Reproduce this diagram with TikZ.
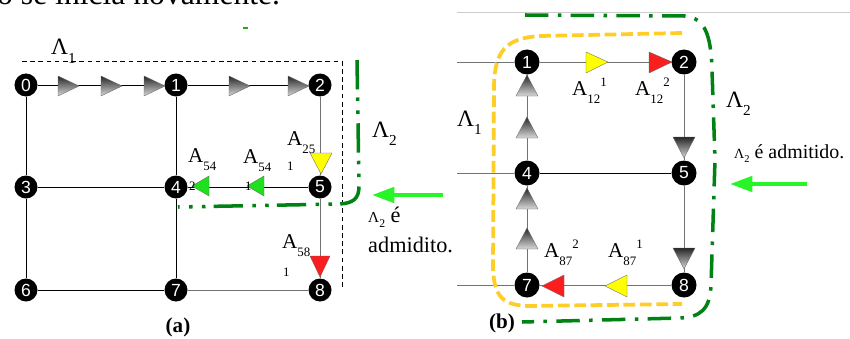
\documentclass[tikz,border=0pt]{standalone}
\usepackage{fontspec}
\setmainfont{Liberation Serif}
\setsansfont{Liberation Sans}
\usetikzlibrary{positioning,calc,arrows.meta}

\definecolor{triyellow}{RGB}{255,255,0}
\definecolor{trired}{RGB}{250,30,30}
\definecolor{trigreen}{RGB}{30,225,30}
\definecolor{arrowgreen}{RGB}{40,245,40}
\definecolor{lamgreen}{RGB}{0,130,20}
\definecolor{lamyellow}{RGB}{255,205,40}

\newcommand{\Aidx}[2]{A\raisebox{-7pt}{\fontsize{11}{11}\selectfont#1}\raisebox{7pt}{\fontsize{11}{11}\selectfont#2}}
\newcommand{\Lam}[1]{Λ\raisebox{-7pt}{\fontsize{13}{13}\selectfont#1}}

\tikzset{
  vtx/.style={circle, fill=black, inner sep=0pt, minimum size=0.69cm, text=white,
    font=\sffamily\fontsize{15}{15}\selectfont},
  vtxb/.style={vtx, minimum size=0.75cm},
  edge/.style={line width=0.6pt, black},
  gedge/.style={line width=0.6pt, black!55},
  graytri/.style={top color=black!85, bottom color=black!15, draw=black!60, line width=0.3pt},
  coltri/.style={fill=#1, draw=black!60, line width=0.3pt},
  lbl/.style={inner sep=0pt, anchor=base west, font=\rmfamily\fontsize{18}{18}\selectfont},
  small/.style={inner sep=0pt, anchor=base west, font=\rmfamily\fontsize{11}{11}\selectfont},
  lamlbl/.style={inner sep=0pt, anchor=base west, font=\rmfamily\fontsize{20}{20}\selectfont},
  lamdashdot/.style={lamgreen, line width=3pt, dash pattern=on 25pt off 7pt on 3pt off 8pt on 3pt off 8pt},
  lamdot/.style={lamgreen, line width=3pt, dash pattern=on 20pt off 8pt on 3pt off 8pt},
  lamdash/.style={lamyellow, line width=3.2pt, dash pattern=on 10pt off 4pt},
  admit/.style={-{Triangle[length=19pt, width=13pt]}, arrowgreen, line width=3.4pt}
}

\begin{document}
\begin{tikzpicture}[x=0.03cm, y=-0.03cm]
  \useasboundingbox (0,0) rectangle (850,338);
  \fill[white] (0,0) rectangle (850,338);

  % Cut text at the top
  \node[inner sep=0pt, anchor=base west, font=\rmfamily\fontsize{27}{27}\selectfont] (toptext) at (-3,5) {o se inicia novamente.};
  \draw[arrowgreen!70!black, line width=1pt] (243,28) -- (248,28);
  \draw[black!20, line width=0.5pt] (457,12) -- (850,12);

  % (a) nodes
  \node[vtx] (a0) at (26,85) {0};
  \node[vtx] (a1) at (176,85) {1};
  \node[vtx] (a2) at (320,85) {2};
  \node[vtx] (a3) at (26,187) {3};
  \node[vtx] (a4) at (176,187) {4};
  \node[vtx] (a5) at (320,187) {5};
  \node[vtx] (a6) at (26,290) {6};
  \node[vtx] (a7) at (176,290) {7};
  \node[vtx] (a8) at (320,290) {8};

  % (a) links
  \draw[edge] (a0) -- (a1);
  \draw[edge] (a1) -- (a2);
  \draw[edge] (a0) -- (a3);
  \draw[edge] (a3) -- (a6);
  \draw[edge] (a1) -- (a4);
  \draw[edge] (a4) -- (a7);
  \draw[gedge] (a2) -- (a5);
  \draw[gedge] (a5) -- (a8);
  \draw[edge] (a3) -- (a4);
  \draw[edge] (a4) -- (a5);
  \draw[edge] (a6) -- (a7);
  \draw[gedge] (a7) -- (a8);

  % (a) flow markers
  \foreach \x in {58,101,144,229,288}
    \path[graytri] (\x,76) -- ++(21,10) -- ++(-21,10) -- cycle;
  \path[coltri=triyellow] (310,153) -- (332,153) -- (321,174) -- cycle;
  \path[coltri=trigreen] (209,176) -- (209,196) -- (192,186) -- cycle;
  \path[coltri=trigreen] (264,176) -- (264,196) -- (247,186) -- cycle;
  \path[coltri=trired] (310,256) -- (330,256) -- (320,277) -- cycle;

  % (a) labels
  \node[lbl] (la25) at (287,145) {\Aidx{25}{}};
  \node[small] (la25i) at (287,170) {1};
  \node[lbl] (la54b) at (188,162) {\Aidx{54}{}};
  \node[small] (la54bi) at (189,190) {2};
  \node[lbl] (la54a) at (243,163) {\Aidx{54}{}};
  \node[small] (la54ai) at (245,190) {1};
  \node[lbl] (la58) at (282,248) {\Aidx{58}{}};
  \node[small] (la58i) at (283,276) {1};

  % (a) regions
  \draw[dash pattern=on 4pt off 3pt, line width=0.5pt] (22,61) -- (342,61) -- (342,288);
  \node[lamlbl] (lamA1) at (51,55) {\Lam{1}};
  \draw[lamdashdot] (357,60) -- (359,186) .. controls (359,199) and (353,203) .. (340,204) -- (178,207);
  \node[lamlbl] (lamA2) at (372,137) {\Lam{2}};
  \coordinate (arrA1) at (443,195);
  \coordinate (arrA2) at (372,195);
  \draw[admit] (arrA1) -- (arrA2);
  \node[inner sep=0pt, anchor=base west, font=\rmfamily\fontsize{19}{19}\selectfont] (admA1) at (368,222)
    {{\fontsize{13}{13}\selectfont Λ\raisebox{-5pt}{\fontsize{10}{10}\selectfont 2}}\ é};
  \node[inner sep=0pt, anchor=base west, font=\rmfamily\fontsize{19}{19}\selectfont] (admA2) at (368,252) {admidito.};
  \node[inner sep=0pt, font=\rmfamily\bfseries\fontsize{18}{18}\selectfont] (capa) at (178,327) {(a)};

  % (b) nodes
  \node[vtxb] (b1) at (527,62) {1};
  \node[vtxb] (b2) at (684,62) {2};
  \node[vtxb] (b4) at (527,173) {4};
  \node[vtxb] (b5) at (684,173) {5};
  \node[vtxb] (b7) at (527,285) {7};
  \node[vtxb] (b8) at (684,285) {8};
  \coordinate (bin1) at (457,62);
  \coordinate (bin4) at (457,173);
  \coordinate (bin7) at (457,285);

  % (b) links
  \draw[gedge] (bin1) -- (b1);
  \draw[gedge] (bin4) -- (b4);
  \draw[gedge] (bin7) -- (b7);
  \draw[gedge] (b1) -- (b2);
  \draw[gedge] (b2) -- (b5);
  \draw[gedge] (b5) -- (b8);
  \draw[edge] (b4) -- (b5);
  \draw[gedge] (b7) -- (b8);
  \draw[gedge] (b1) -- (b4);
  \draw[gedge] (b4) -- (b7);

  % (b) flow markers
  \foreach \y in {75,117,188,228}
    \path[graytri] (527,\y) -- ++(11,21) -- ++(-22,0) -- cycle;
  \foreach \y in {137,248}
    \path[graytri] (673,\y) -- ++(22,0) -- ++(-11,21) -- cycle;
  \path[coltri=triyellow] (586,52) -- (608,62) -- (586,73) -- cycle;
  \path[coltri=trired] (649,52) -- (672,62) -- (649,73) -- cycle;
  \path[coltri=trired] (564,275) -- (564,297) -- (542,286) -- cycle;
  \path[coltri=triyellow] (627,275) -- (627,297) -- (605,286) -- cycle;

  % (b) labels
  \node[lbl] (lb12a) at (572,95) {\Aidx{12}{1}};
  \node[lbl] (lb12b) at (635,95) {\Aidx{12}{2}};
  \node[lbl] (lb87b) at (544,257) {\Aidx{87}{2}};
  \node[lbl] (lb87a) at (608,257) {\Aidx{87}{1}};

  % (b) regions
  \draw[lamdash] (682,33) -- (540,36) .. controls (505,38) and (495,52) .. (494,85)
    -- (493,268) .. controls (494,298) and (504,305) .. (528,306) -- (682,304);
  \draw[lamdot] (525,15) -- (685,16) .. controls (705,18) and (711,35) .. (712,70)
    -- (715,160) -- (711,285) .. controls (710,310) and (700,317) .. (680,318) -- (522,322);
  \node[lamlbl] (lamB1) at (457,126) {\Lam{1}};
  \node[lamlbl] (lamB2) at (726,107) {\Lam{2}};
  \node[inner sep=0pt, anchor=base west, font=\rmfamily\fontsize{17}{17}\selectfont] (admB) at (734,158)
    {{\fontsize{12}{12}\selectfont Λ\raisebox{-4pt}{\fontsize{9}{9}\selectfont 2}}\ é admitido.};
  \coordinate (arrB1) at (807,184);
  \coordinate (arrB2) at (730,184);
  \draw[admit] (arrB1) -- (arrB2);
  \node[inner sep=0pt, font=\rmfamily\bfseries\fontsize{18}{18}\selectfont] (capb) at (502,323) {(b)};
\end{tikzpicture}
\end{document}
